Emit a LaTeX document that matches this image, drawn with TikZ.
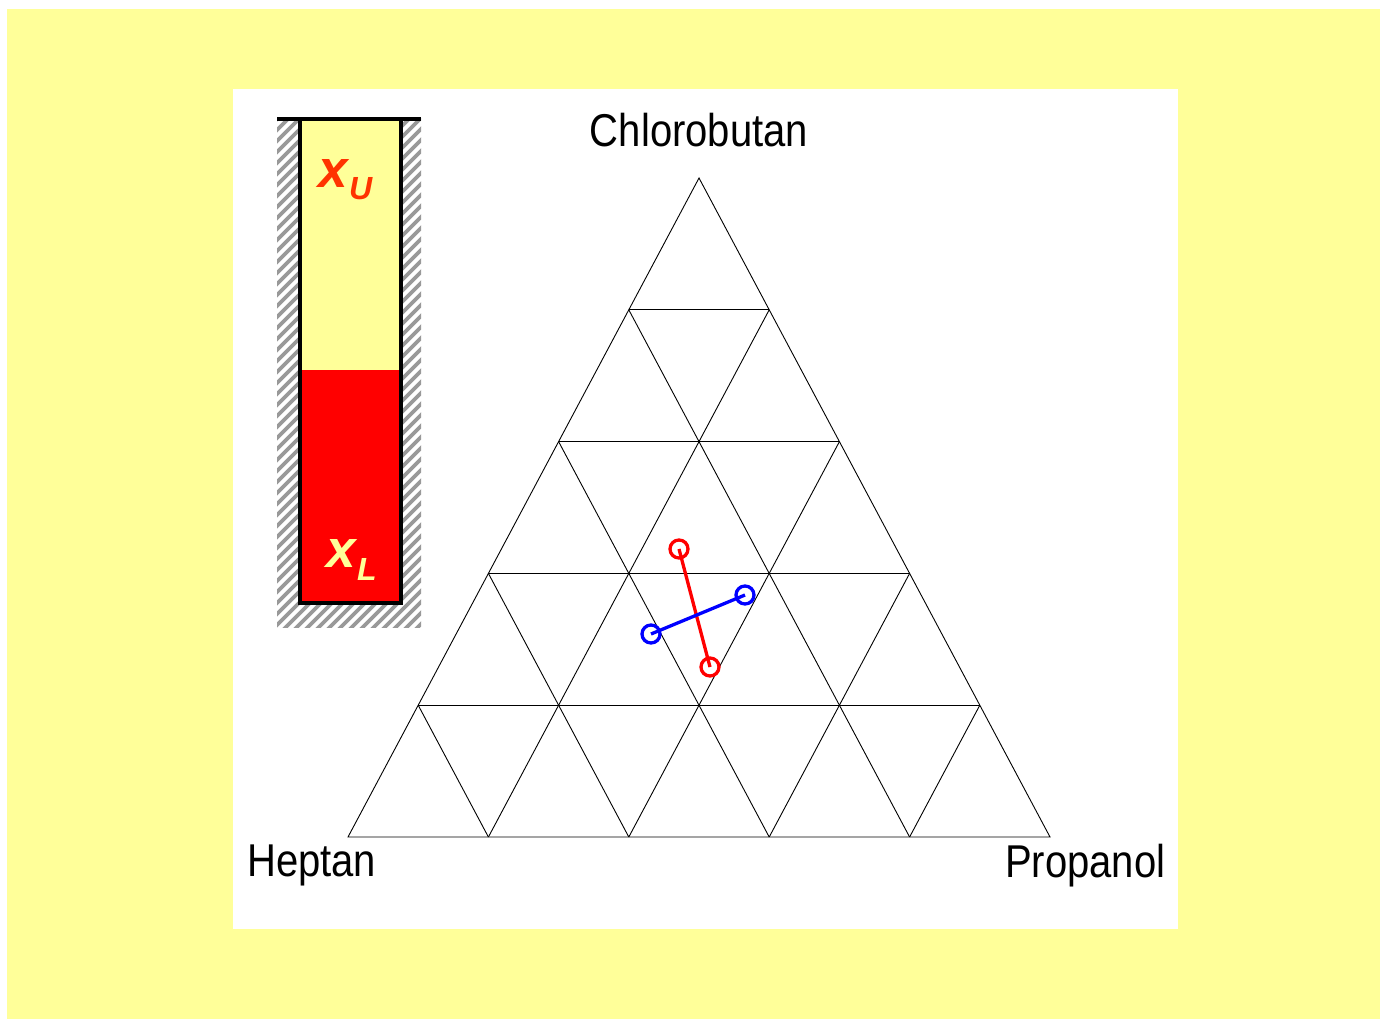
\documentclass[tikz,border=0pt]{standalone}
\usepackage{fontspec}
\setmainfont{Liberation Sans}
\usetikzlibrary{calc}
\definecolor{bgyellow}{HTML}{FFFF99}
\definecolor{xured}{HTML}{FF3300}
\tikzset{
  grid/.style={black, line width=0.9},
  lbl/.style={inner sep=0, font=\fontsize{46}{50}\selectfont},
  tieR/.style={red, line width=3.3},
  tieB/.style={blue, line width=3.3},
  ringR/.style={circle, draw=red, line width=3.3, minimum size=18, inner sep=0},
  ringB/.style={circle, draw=blue, line width=3.3, minimum size=18, inner sep=0},
  bigx/.style={inner sep=0, font=\fontsize{53}{55}\selectfont\bfseries\itshape},
  subx/.style={inner sep=0, font=\fontsize{32}{34}\selectfont\bfseries\itshape},
}
\begin{document}
\begin{tikzpicture}[x=1pt,y=-1pt]
\useasboundingbox (0,0) rectangle (1380,1019);
\fill[white] (0,0) rectangle (1380,1019);
\fill[bgyellow] (7,9) rectangle (1380,1019);
\fill[white] (233,89) rectangle (1178,929);

% cylinder hatch
\begin{scope}
  \clip (277,119) rectangle (421,627);
  \fill[white] (277,119) rectangle (421,627);
  \foreach \k in {0,...,80}
    \draw[gray!80, line width=3.8] (240,90+11*\k) -- ++(220,-220);
\end{scope}
\fill[bgyellow] (300,119) rectangle (401,370);
\fill[red] (300,370) rectangle (401,603);
\draw[black, line width=4] (300,119) -- (300,603) -- (401,603) -- (401,119);
\draw[black, line width=4] (277,119) -- (421,119);

\node[bigx, text=xured, anchor=base west] (xu) at (318,188) {x};
\node[subx, text=xured, anchor=base west] (xus) at (xu.base east) [xshift=1pt, yshift=-12pt] {U};
\node[bigx, text=bgyellow, anchor=base west] (xl) at (326,567) {x};
\node[subx, text=bgyellow, anchor=base west] (xls) at (xl.base east) [xshift=1pt, yshift=-13pt] {L};

% triangle
\coordinate (A) at (699,178);
\coordinate (L) at (348,837);
\coordinate (R) at (1050,837);
\draw[grid] (A) -- (L) -- (R) -- cycle;
\foreach \k in {1,2,3,4} {
  \draw[grid] ($(A)!\k/5!(L)$) -- ($(A)!\k/5!(R)$);
  \draw[grid] ($(L)!\k/5!(A)$) -- ($(L)!\k/5!(R)$);
  \draw[grid] ($(R)!\k/5!(A)$) -- ($(R)!\k/5!(L)$);
}

\node[lbl, anchor=base] (chl) at (699,147) {\scalebox{0.87}[1]{Chlorobutan}};
\node[lbl, anchor=base west] (hep) at (247,876) {\scalebox{0.87}[1]{Heptan}};
\node[lbl, anchor=base west] (pro) at (1005,877) {\scalebox{0.87}[1]{Propanol}};

% tie lines
\node[ringR] (r1) at (679,549) {};
\node[ringR] (r2) at (710,667) {};
\node[ringB] (b1) at (651,634) {};
\node[ringB] (b2) at (745,595) {};
\draw[tieR] (r1.center) -- (r2.center);
\draw[tieB] (b1.center) -- (b2.center);
\end{tikzpicture}
\end{document}
